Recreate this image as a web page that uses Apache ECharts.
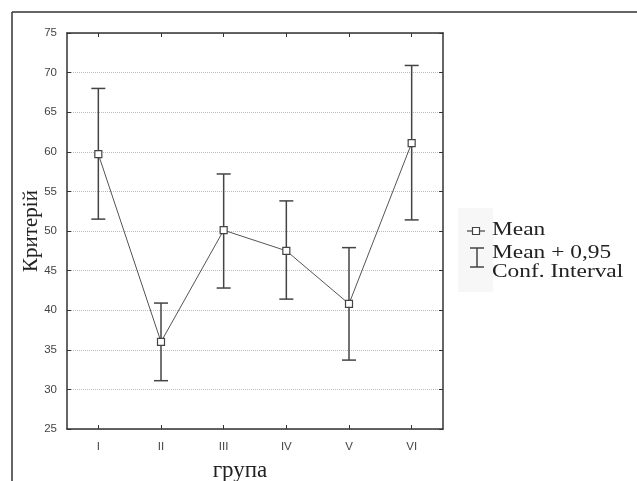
<!DOCTYPE html>
<html><head><meta charset="utf-8">
<script src="https://cdn.jsdelivr.net/npm/echarts@6/dist/echarts.min.js"></script>
<style>html,body{margin:0;padding:0;background:#fff}#c{width:637px;height:481px}</style>
</head><body><div id="c"></div>
<script>
var categories = ['I', 'II', 'III', 'IV', 'V', 'VI'];
var means = [59.7, 36.0, 50.1, 47.5, 40.8, 61.1];
var lower = [51.5, 31.1, 42.8, 41.4, 33.7, 51.4];
var upper = [68.0, 40.9, 57.2, 53.8, 47.9, 70.9];
var yTicks = [25, 30, 35, 40, 45, 50, 55, 60, 65, 70, 75];

var chart = echarts.init(document.getElementById('c'));
var axisLine = {show: true, lineStyle: {color: '#333', width: 1.5}};
var errData = categories.map(function (c, i) { return [i, lower[i], upper[i]]; });
var legendFont = {fontFamily: 'Liberation Serif', fontSize: 18, fill: '#222', verticalAlign: 'middle'};
function legendText(t, y) {
  return {type: 'text', x: 492, y: y, scaleX: 1.3, style: Object.assign({text: t}, legendFont)};
}

chart.setOption({
  backgroundColor: '#fff',
  animation: false,
  grid: {left: 67, right: 194, top: 33, bottom: 52, containLabel: false, outerBoundsMode: 'none'},
  xAxis: [{
    type: 'category', data: categories, boundaryGap: true,
    axisLine: axisLine,
    axisTick: {show: true, alignWithLabel: true, inside: true, length: 4, lineStyle: {color: '#333'}},
    axisLabel: {color: '#444', fontFamily: 'Liberation Sans', fontSize: 11.5, margin: 12},
    name: 'група', nameLocation: 'middle', nameGap: 30, nameMoveOverlap: false,
    nameTextStyle: {fontFamily: 'Liberation Serif', fontSize: 23, color: '#222', padding: [0, 30, 0, 0]}
  }, {
    type: 'category', data: categories, position: 'top', boundaryGap: true,
    axisLine: axisLine,
    axisTick: {show: true, alignWithLabel: true, inside: true, length: 4, lineStyle: {color: '#333'}},
    axisLabel: {show: false}
  }],
  yAxis: [{
    type: 'value', min: yTicks[0], max: yTicks[yTicks.length - 1], interval: 5,
    axisLine: axisLine,
    axisTick: {show: true, inside: true, length: 4, lineStyle: {color: '#333'}},
    axisLabel: {color: '#444', fontFamily: 'Liberation Sans', fontSize: 11.5, margin: 10},
    splitLine: {show: true, lineStyle: {color: '#bbb', type: 'dotted', width: 1}},
    name: 'Критерій', nameLocation: 'middle', nameGap: 25, nameRotate: 90, nameMoveOverlap: false,
    nameTextStyle: {fontFamily: 'Liberation Serif', fontSize: 21, color: '#222'}
  }, {
    type: 'value', min: yTicks[0], max: yTicks[yTicks.length - 1], interval: 5, position: 'right',
    axisLine: axisLine,
    axisTick: {show: true, inside: true, length: 4, lineStyle: {color: '#333'}},
    axisLabel: {show: false}, splitLine: {show: false}
  }],
  series: [{
    name: 'Mean + 0,95 Conf. Interval',
    type: 'custom',
    data: errData,
    z: 3,
    renderItem: function (params, api) {
      var x = api.value(0);
      var lo = api.coord([x, api.value(1)]);
      var hi = api.coord([x, api.value(2)]);
      var hw = 7;
      var st = {stroke: '#444', lineWidth: 1.5};
      return {type: 'group', children: [
        {type: 'line', shape: {x1: lo[0], y1: lo[1], x2: hi[0], y2: hi[1]}, style: st},
        {type: 'line', shape: {x1: lo[0] - hw, y1: lo[1], x2: lo[0] + hw, y2: lo[1]}, style: st},
        {type: 'line', shape: {x1: hi[0] - hw, y1: hi[1], x2: hi[0] + hw, y2: hi[1]}, style: st}
      ]};
    }
  }, {
    name: 'Mean',
    type: 'line',
    data: means,
    z: 5,
    symbol: 'rect', symbolSize: 7, showAllSymbol: true,
    lineStyle: {color: '#555', width: 1},
    itemStyle: {color: '#fff', borderColor: '#444', borderWidth: 1.2}
  }],
  graphic: [
    {type: 'line', shape: {x1: 12, y1: 12, x2: 637, y2: 12}, style: {stroke: '#333', lineWidth: 1.5}},
    {type: 'line', shape: {x1: 12, y1: 12, x2: 12, y2: 481}, style: {stroke: '#333', lineWidth: 1.5}},
    {type: 'rect', shape: {x: 458, y: 208, width: 35, height: 84}, style: {fill: '#f7f7f7'}},
    {type: 'line', shape: {x1: 467, y1: 231, x2: 485, y2: 231}, style: {stroke: '#444', lineWidth: 1.2}},
    {type: 'rect', shape: {x: 472.5, y: 227.5, width: 7, height: 7}, style: {fill: '#fff', stroke: '#444', lineWidth: 1.2}},
    {type: 'line', shape: {x1: 477, y1: 248, x2: 477, y2: 267}, style: {stroke: '#444', lineWidth: 1.5}},
    {type: 'line', shape: {x1: 470, y1: 248, x2: 484, y2: 248}, style: {stroke: '#444', lineWidth: 1.5}},
    {type: 'line', shape: {x1: 470, y1: 267, x2: 484, y2: 267}, style: {stroke: '#444', lineWidth: 1.5}},
    legendText('Mean', 230),
    legendText('Mean + 0,95', 253),
    legendText('Conf. Interval', 272)
  ]
});
</script></body></html>
